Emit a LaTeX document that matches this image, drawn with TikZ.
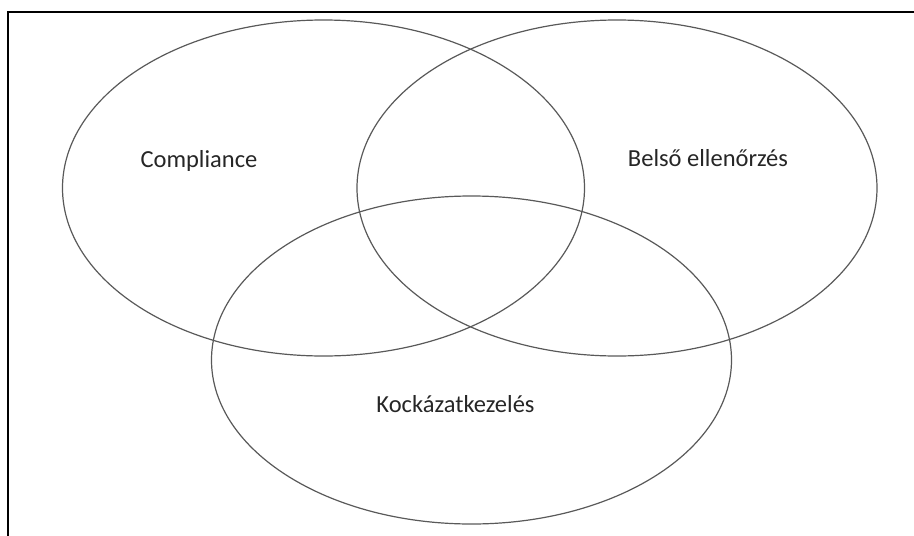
\documentclass[tikz,border=0pt]{standalone}
\usepackage{fontspec}
\setmainfont{Carlito}
\begin{document}
\begin{tikzpicture}[x=1pt,y=-1pt,
  venn/.style={draw=black!65,line width=1.2pt},
  frameline/.style={draw=black,line width=2.6pt},
  lbl/.style={anchor=base,font=\fontsize{24.5}{28}\selectfont,text=black!85,inner sep=0pt}]
\useasboundingbox (0,0) rectangle (914,536);
\draw[venn] (323.5,188) ellipse [x radius=261,y radius=168];
\draw[venn] (617,188) ellipse [x radius=260,y radius=168];
\draw[venn] (471.5,360) ellipse [x radius=260,y radius=164];
\node[lbl] (compl) at (199,167) {Compliance};
\node[lbl] (belso) at (708,166) {Belső ellenőrzés};
\node[lbl] (kock) at (455.5,412) {Kockázatkezelés};
\coordinate (c1) at (8,536);
\coordinate (c2) at (8,12);
\coordinate (c3) at (914,12);
\draw[frameline] (c1) -- (c2) -- (c3);
\end{tikzpicture}
\end{document}
